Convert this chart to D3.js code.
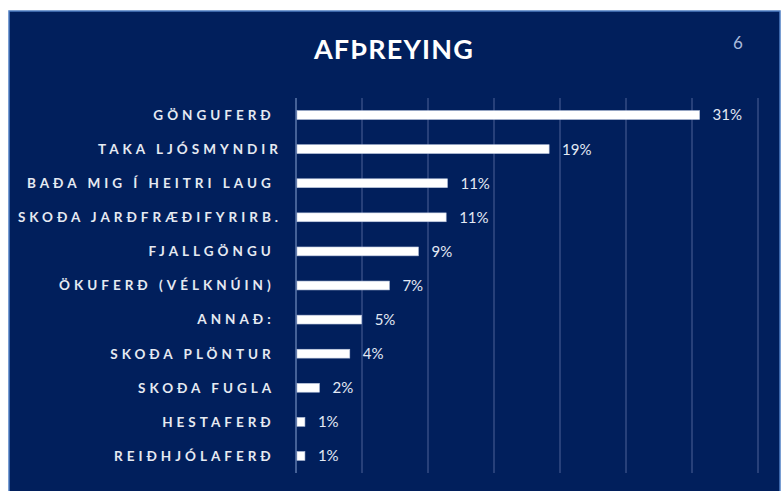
<!DOCTYPE html>
<html>
<head>
<meta charset="utf-8">
<script src="https://cdn.jsdelivr.net/npm/d3@7"></script>
<style>
  body { margin: 0; background: #fff; }
  text { white-space: pre; }
</style>
</head>
<body>
<div id="my_dataviz"></div>
<script>
// categories, top to bottom (trailing space kept as in the original labels)
var categories = ["GÖNGUFERÐ ", "TAKA LJÓSMYNDIR", "BAÐA MIG Í HEITRI LAUG ", "SKOÐA JARÐFRÆÐIFYRIRB.",
  "FJALLGÖNGU ", "ÖKUFERÐ (VÉLKNÚIN) ", "ANNAÐ: ", "SKOÐA PLÖNTUR ", "SKOÐA FUGLA ", "HESTAFERÐ ", "REIÐHJÓLAFERÐ "];
// share of respondents
var values = [0.305, 0.191, 0.114, 0.113, 0.092, 0.070, 0.049, 0.040, 0.017, 0.006, 0.006];
var gridTicks = [0, 0.05, 0.10, 0.15, 0.20, 0.25, 0.30, 0.35];
var title = "AFÞREYING";
var pageNo = "6";

var W = 782, H = 491;
var navy = "#011f5c";

var svg = d3.select("#my_dataviz").append("svg")
  .attr("width", W).attr("height", H);

// panel
svg.append("rect")
  .attr("x", 9).attr("y", 11).attr("width", 771).attr("height", H - 11 + 2)
  .style("fill", navy)
  .style("stroke", "#4f7fc4")
  .style("stroke-width", 1.5);

svg.append("text")
  .attr("x", 394).attr("y", 59)
  .attr("text-anchor", "middle")
  .style("font-family", "Lato, sans-serif")
  .style("font-weight", "bold")
  .style("font-size", "27px")
  .style("letter-spacing", "1.2px")
  .style("fill", "#ffffff")
  .text(title);

svg.append("text")
  .attr("x", 738).attr("y", 49)
  .attr("text-anchor", "middle")
  .style("font-family", "Lato, sans-serif")
  .style("font-size", "17px")
  .style("fill", "#a9bbdc")
  .text(pageNo);

// X scale: 0..35% across the plot
var x = d3.scaleLinear()
  .domain([0, 0.35])
  .range([296, 758]);

var y = d3.scaleBand()
  .domain(categories)
  .range([98, 473])
  .paddingInner(0.74)
  .paddingOuter(0.37);

// gridlines
svg.append("g")
  .selectAll("line")
  .data(gridTicks)
  .enter()
  .append("line")
    .attr("x1", function(d) { return x(d); })
    .attr("x2", function(d) { return x(d); })
    .attr("y1", 98).attr("y2", 473)
    .style("stroke", function(d) { return d === 0 ? "#8aa4d2" : "#4e6397"; })
    .style("stroke-width", 1);

// bars
svg.append("g")
  .selectAll("rect")
  .data(values)
  .enter()
  .append("rect")
    .attr("x", x(0) + 1)
    .attr("y", function(d, i) { return y(categories[i]); })
    .attr("width", function(d) { return x(d) - x(0); })
    .attr("height", y.bandwidth())
    .style("fill", "#ffffff")
    .style("stroke", "#b7c3dc")
    .style("stroke-width", 0.6);

// value labels
svg.append("g")
  .selectAll("text")
  .data(values)
  .enter()
  .append("text")
    .attr("x", function(d) { return x(d) + 14; })
    .attr("y", function(d, i) { return y(categories[i]) + y.bandwidth() / 2; })
    .attr("dy", "0.36em")
    .style("font-family", "Lato, sans-serif")
    .style("font-size", "15px")
    .style("fill", "#e3e9f4")
    .text(function(d) { return d3.format(".0%")(d); });

// category labels
svg.append("g")
  .selectAll("text")
  .data(categories)
  .enter()
  .append("text")
    .attr("x", 282)
    .attr("y", function(d) { return y(d) + y.bandwidth() / 2; })
    .attr("dy", "0.36em")
    .attr("text-anchor", "end")
    .style("font-family", "Lato, sans-serif")
    .style("font-weight", "bold")
    .style("font-size", "13.5px")
    .style("letter-spacing", "4px")
    .style("fill", "#e6eaf2")
    .text(function(d) { return d; });
</script>
</body>
</html>
